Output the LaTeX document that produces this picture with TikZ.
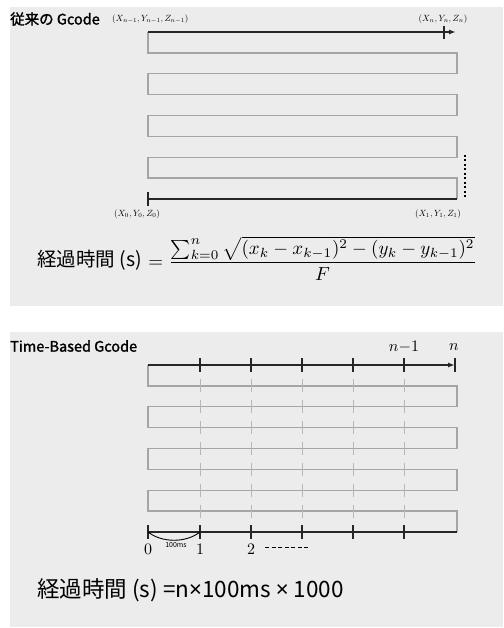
\documentclass[tikz,border=0pt]{standalone}
\usepackage{fontspec}
\newfontfamily\jp{Noto Sans CJK JP}
\newfontfamily\jpsemi[FakeBold=1.6]{Noto Sans CJK JP}
\newfontfamily\lat{Noto Sans}
\usetikzlibrary{arrows.meta}
\definecolor{panel}{HTML}{ECECEC}
\definecolor{loopgray}{HTML}{A5A5A5}
\tikzset{
  blackline/.style={line width=1.4pt, draw=black!85},
  grayline/.style={line width=1.3pt, draw=loopgray},
  tickmark/.style={line width=1.1pt, draw=black!85},
  graytick/.style={line width=1.0pt, draw=loopgray!80},
  axisarrow/.style={blackline, -{Latex[length=7pt,width=5pt]}},
  title/.style={font=\jpsemi\fontsize{14.5}{16}\selectfont, anchor=west, inner sep=0pt},
  coordlabel/.style={scale=0.9, inner sep=0pt},
  numlabel/.style={scale=1.6, inner sep=0pt},
}
\begin{document}
\begin{tikzpicture}[x=1pt,y=-1pt]
\useasboundingbox (0,0) rectangle (503,628);
\fill[white] (0,0) rectangle (503,628);
\fill[panel] (10,7) rectangle (503,306);
\fill[panel] (10,332) rectangle (503,627);

% ---------- top panel ----------
\node[title] (t1) at (10,19) {従来の Gcode};
\node[coordlabel, anchor=west] (pn1) at (112,19) {$(X_{n-1},Y_{n-1},Z_{n-1})$};
\node[coordlabel] (pn) at (443,19) {$(X_n,Y_n,Z_n)$};
\node[coordlabel] (p0) at (137,214) {$(X_0,Y_0,Z_0)$};
\node[coordlabel] (p1) at (438,214) {$(X_1,Y_1,Z_1)$};

\coordinate (a0) at (148,199);
\coordinate (a1) at (457,199);
\coordinate (aT) at (148,32);
\coordinate (aE) at (456,32);

\draw[grayline, line join=miter] (148,32) -- (148,52.9) -- (457,52.9) -- (457,73.75) -- (148,73.75)
  -- (148,94.6) -- (457,94.6) -- (457,115.5) -- (148,115.5) -- (148,136.4) -- (457,136.4)
  -- (457,157.25) -- (148,157.25) -- (148,178.1) -- (457,178.1) -- (457,199);
\draw[blackline] (a0) -- (a1);
\draw[tickmark] (148,192) -- (148,206);
\draw[axisarrow] (aT) -- (aE);
\draw[tickmark] (444,26) -- (444,39);
\draw[line width=1.3pt, dash pattern=on 2pt off 2.5pt] (465,155) -- (465,197);

\node[font=\jp\fontsize{19.5}{22}\selectfont, anchor=west, inner sep=0pt] (f1a) at (37,260) {経過時間 (s)};
\node[scale=1.9, anchor=west, inner sep=0pt] (f1b) at ([xshift=6pt,yshift=1.5pt]f1a.east) {$=\displaystyle\frac{\sum_{k=0}^{n}\sqrt{(x_k-x_{k-1})^2-(y_k-y_{k-1})^2}}{F}$};

% ---------- bottom panel ----------
\node[title] (t2) at (10,346) {Time-Based Gcode};

\draw[grayline, line join=miter] (148,365) -- (148,385.9) -- (457,385.9) -- (457,406.75) -- (148,406.75)
  -- (148,427.6) -- (457,427.6) -- (457,448.5) -- (148,448.5) -- (148,469.4) -- (457,469.4)
  -- (457,490.25) -- (148,490.25) -- (148,511.1) -- (457,511.1) -- (457,532);
\foreach \yy in {385.9,406.75,427.6,448.5,469.4,490.25,511.1}
  \foreach \xx in {200,251,302,353,404}
    \draw[graytick] (\xx,\yy-6.5) -- (\xx,\yy+6.5);

\coordinate (b0) at (148,365);
\coordinate (bE) at (455,365);
\draw[axisarrow] (b0) -- (bE);
\foreach \xx in {200,251,302,353,404,455}
  \draw[tickmark] (\xx,358) -- (\xx,372);
\node[numlabel] (nm1) at (404,347) {$n{-}1$};
\node[numlabel] (nn) at (454,347) {$n$};

\coordinate (c0) at (148,532);
\coordinate (c1) at (200,532);
\coordinate (cE) at (457,532);
\draw[blackline] (c0) -- (cE);
\foreach \xx in {148,200,251,302,353,404}
  \draw[tickmark] (\xx,525) -- (\xx,539);
\draw[line width=0.9pt] (c0) .. controls (162,543) and (186,543) .. (c1);
\node[font=\jp\fontsize{7}{8}\selectfont, inner sep=0pt] (ms) at (176,545) {100ms};
\node[numlabel] (z0) at (148,549) {$0$};
\node[numlabel] (z1) at (200,549) {$1$};
\node[numlabel] (z2) at (251,549) {$2$};
\coordinate (d0) at (265,547);
\coordinate (d1) at (308,547);
\draw[line width=0.9pt, dash pattern=on 4pt off 2.5pt] (d0) -- (d1);

\node[font=\jp\fontsize{22.5}{25}\selectfont, anchor=west, inner sep=0pt] (f2) at (37,590) {経過時間 (s) =n{\lat ×}100ms {\lat ×} 1000};
\end{tikzpicture}
\end{document}
